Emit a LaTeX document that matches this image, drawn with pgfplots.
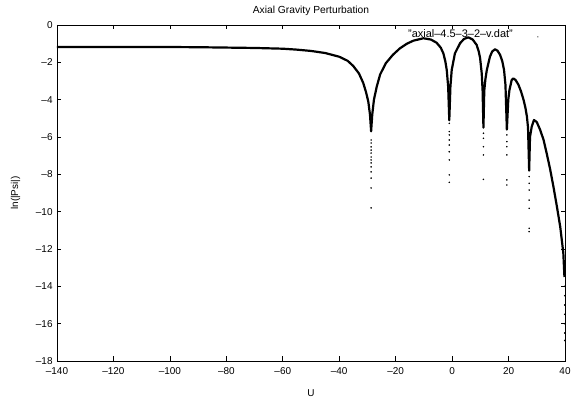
\documentclass[border=0pt]{standalone}
\usepackage{pgfplots}
\pgfplotsset{compat=1.18}
\usepackage{fontspec}
\setmainfont{Liberation Sans}
\begin{document}
\fontsize{9.8}{11}\selectfont
\begin{tikzpicture}
\useasboundingbox (-57bp,-38bp) rectangle (519bp,361bp);
\begin{axis}[
  at={(0,0)}, anchor=south west,
  scale only axis, width=508bp, height=336bp,
  xmin=-140, xmax=40, ymin=-18, ymax=0,
  xtick={-140,-120,-100,-80,-60,-40,-20,0,20,40},
  xticklabels={\textendash140,\textendash120,\textendash100,\textendash80,\textendash60,\textendash40,\textendash20,0,20,40},
  ytick={-18,-16,-14,-12,-10,-8,-6,-4,-2,0},
  yticklabels={\textendash18,\textendash16,\textendash14,\textendash12,\textendash10,\textendash8,\textendash6,\textendash4,\textendash2,0},
  tick align=inside, major tick length=4.5bp,
  tick style={black, line width=0.6bp},
  axis line style={black, line width=0.8bp},
  ticklabel style={font=\fontsize{10}{11}\selectfont},
  xticklabel style={yshift=-3bp},
  yticklabel style={xshift=-1bp},
  xlabel={U}, ylabel={ln(|Psi|)},
  label style={font=\fontsize{10}{11}\selectfont},
  xlabel style={yshift=-8bp},
  ylabel style={yshift=9bp},
  title={Axial Gravity Perturbation},
  title style={font=\fontsize{10.3}{11}\selectfont},
  legend style={draw=none, fill=none, at={(1,1)}, anchor=north east, xshift=-26bp, yshift=-2bp, font=\fontsize{11}{12}\selectfont, inner sep=0pt},
  legend plot pos=right,
  legend image code/.code={\path[draw=none,fill=none] (0,0) -- (24bp,0); \fill[black,draw=none] (23bp,-3bp) circle (0.6bp);},
]
\addplot[black, line width=2.2bp, line join=round] coordinates {
(-140,-1.18) (-120,-1.18) (-100,-1.18) (-90,-1.19) (-80,-1.21) (-70,-1.23) (-60,-1.27)
(-55,-1.32) (-50,-1.39) (-45,-1.5) (-40,-1.7) (-37,-1.92) (-35,-2.2) (-33,-2.6)
(-31.5,-3.1) (-30.5,-3.6) (-29.7,-4.1) (-29.1,-4.8) (-28.7,-5.7) (-28.3,-4.8)
(-27.7,-4.0) (-26.7,-3.3) (-25.5,-2.65) (-23.5,-2.05) (-21,-1.6) (-18.5,-1.25)
(-16,-1.0) (-13.7,-0.84) (-10.2,-0.71) (-7.5,-0.78) (-5.5,-0.95) (-4,-1.22)
(-3.1,-1.52) (-2.4,-1.95) (-1.9,-2.41) (-1.4,-3.3) (-1.0,-5.1) (-0.6,-3.3)
(-0.14,-2.41) (1.0,-1.52) (2.8,-0.98) (4.2,-0.75) (5.7,-0.66) (7.3,-0.78)
(8.7,-1.07) (9.4,-1.4) (9.9,-1.75) (10.5,-2.6) (10.8,-3.5) (11.1,-5.5)
(11.4,-3.5) (11.8,-2.9) (12.3,-2.41) (13.4,-1.7) (14.2,-1.42) (15.2,-1.3)
(16.1,-1.38) (17,-1.6) (17.8,-1.95) (18.4,-2.41) (18.9,-3.2) (19.4,-5.6)
(19.9,-4.0) (20.3,-3.5) (21.1,-2.95) (21.7,-2.86) (22.5,-2.95) (23.5,-3.2)
(24.4,-3.55) (25.3,-4.0) (26.0,-4.45) (26.5,-4.9) (26.9,-5.5) (27.3,-7.8)
(27.6,-6.0) (28.2,-5.45) (29.0,-5.09) (30,-5.2) (31.2,-5.62) (32.4,-6.15)
(33.5,-6.87) (34.7,-7.7) (35.9,-8.66) (37.1,-9.7) (38.3,-10.8) (39.4,-12.2)
(39.8,-13.5)
};
\addlegendentry{"axial\textendash4.5\textendash3\textendash2\textendash v.dat"}
\addplot[only marks, mark=*, mark size=0.55bp, black, forget plot] coordinates {
(-28.7,-6.16) (-28.7,-6.32) (-28.7,-6.53) (-28.7,-6.7) (-28.7,-6.86) (-28.7,-7.07)
(-28.7,-7.23) (-28.7,-7.39) (-28.7,-7.6) (-28.7,-7.87) (-28.7,-8.2) (-28.7,-8.73) (-28.7,-9.8)
(-1.0,-5.27) (-1.0,-5.71) (-1.0,-5.89) (-1.0,-6.16) (-1.0,-6.43) (-1.0,-6.79) (-1.0,-7.23) (-1.0,-8.03) (-1.0,-8.43)
(11.1,-5.8) (11.1,-6.07) (11.1,-6.52) (11.1,-6.96) (11.1,-8.27)
(19.4,-5.89) (19.4,-6.25) (19.4,-6.52) (19.4,-6.96) (19.4,-8.3) (19.4,-8.57)
(27.3,-8.12) (27.3,-8.48) (27.3,-8.84) (27.3,-9.38) (27.3,-9.82) (27.3,-10.89) (27.3,-11.07)
(39.9,-14.0) (39.9,-14.5) (39.9,-15.0) (39.9,-15.5) (39.9,-16.0) (39.9,-16.5) (39.9,-16.9)
};
\end{axis}
\end{tikzpicture}
\end{document}
